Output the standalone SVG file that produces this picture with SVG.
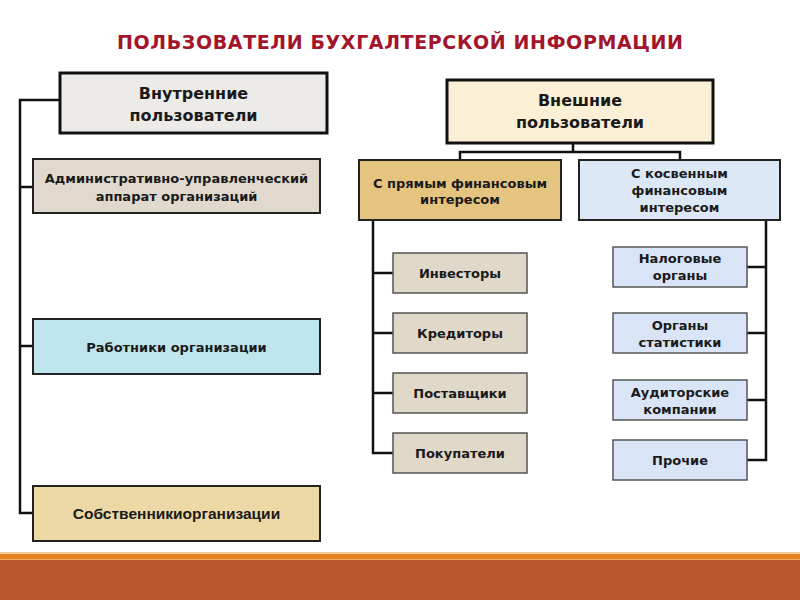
<svg xmlns="http://www.w3.org/2000/svg" width="800" height="600" viewBox="0 0 800 600">
<style>
  .t { font-family: "DejaVu Sans", Verdana, sans-serif; font-weight: bold; fill: #1a1a1a; text-anchor: middle; dominant-baseline: central; }
  .h { font-size: 16px; }
  .m { font-size: 13px; }
  .s { font-size: 13px; }
  .c { font-family: "Liberation Sans", Arial, sans-serif; font-weight: bold; font-size: 15.5px; fill: #1a1a1a; text-anchor: middle; dominant-baseline: central; }
  .thick { stroke: #111; stroke-width: 3; }
  .mid { stroke: #222; stroke-width: 2; }
  .thin { stroke: #555; stroke-width: 1.5; }
  .conn { fill: none; stroke: #111; stroke-width: 2.5; }
</style>
<rect width="800" height="600" fill="#ffffff"/>
<text x="400" y="41.5" font-family="DejaVu Sans, Verdana, sans-serif" font-weight="bold" font-size="19" fill="#a3152b" text-anchor="middle" dominant-baseline="central" textLength="566" lengthAdjust="spacing">ПОЛЬЗОВАТЕЛИ БУХГАЛТЕРСКОЙ ИНФОРМАЦИИ</text>

<g id="connectors">
  <path class="conn" d="M60 100 H20 V513 H33"/>
  <path class="conn" d="M20 187 H33 M20 346 H33"/>
  <path class="conn" d="M573 143 V152 M460 160 V152 H680 V160"/>
  <path class="conn" d="M373 220 V453 H393 M373 273 H393 M373 333 H393 M373 393 H393"/>
  <path class="conn" d="M766 220 V460 H747 M766 267 H747 M766 333 H747 M766 400 H747"/>
</g>

<g id="internal">
  <rect x="60" y="73" width="267" height="60" fill="#ecebe8" class="thick"/>
  <text class="t h" x="193.5" y="93">Внутренние</text>
  <text class="t h" x="193.5" y="115">пользователи</text>
</g>
<g id="admin">
  <rect x="33" y="159" width="287" height="54" fill="#e1d9cd" class="mid"/>
  <text class="t s" x="176.5" y="178">Административно-управленческий</text>
  <text class="t s" x="176.5" y="196">аппарат организаций</text>
</g>
<g id="workers">
  <rect x="33" y="319" width="287" height="55" fill="#bfe6ee" class="mid"/>
  <text class="t m" x="176.5" y="347">Работники организации</text>
</g>
<g id="owners">
  <rect x="33" y="486" width="287" height="55" fill="#ecd9a6" class="mid"/>
  <text class="c" x="176.5" y="513">Собственникиорганизации</text>
</g>

<g id="external">
  <rect x="447" y="80" width="266" height="63" fill="#fbf0d6" class="thick"/>
  <text class="t h" x="580" y="100">Внешние</text>
  <text class="t h" x="580" y="122">пользователи</text>
</g>
<g id="direct">
  <rect x="359" y="160" width="202" height="60" fill="#e5c47f" class="mid"/>
  <text class="t m" x="460" y="183">С прямым финансовым</text>
  <text class="t m" x="460" y="199">интересом</text>
</g>
<g id="indirect">
  <rect x="579" y="160" width="201" height="60" fill="#dce8f5" class="mid"/>
  <text class="t m" x="679.5" y="173">С косвенным</text>
  <text class="t m" x="679.5" y="190">финансовым</text>
  <text class="t m" x="679.5" y="207">интересом</text>
</g>

<g id="investors">
  <rect x="393" y="253" width="134" height="40" fill="#e0d8c8" class="thin"/>
  <text class="t m" x="460" y="273">Инвесторы</text>
</g>
<g id="creditors">
  <rect x="393" y="313" width="134" height="40" fill="#e0d8c8" class="thin"/>
  <text class="t m" x="460" y="333">Кредиторы</text>
</g>
<g id="suppliers">
  <rect x="393" y="373" width="134" height="40" fill="#e0d8c8" class="thin"/>
  <text class="t m" x="460" y="393">Поставщики</text>
</g>
<g id="buyers">
  <rect x="393" y="433" width="134" height="40" fill="#e0d8c8" class="thin"/>
  <text class="t m" x="460" y="453">Покупатели</text>
</g>

<g id="tax">
  <rect x="613" y="247" width="134" height="40" fill="#d9e4f7" class="thin"/>
  <text class="t m" x="680" y="258">Налоговые</text>
  <text class="t m" x="680" y="275">органы</text>
</g>
<g id="stat">
  <rect x="613" y="313" width="134" height="40" fill="#d9e4f7" class="thin"/>
  <text class="t m" x="680" y="325">Органы</text>
  <text class="t m" x="680" y="342">статистики</text>
</g>
<g id="audit">
  <rect x="613" y="380" width="134" height="40" fill="#d9e4f7" class="thin"/>
  <text class="t m" x="680" y="392">Аудиторские</text>
  <text class="t m" x="680" y="409">компании</text>
</g>
<g id="other">
  <rect x="613" y="440" width="134" height="40" fill="#d9e4f7" class="thin"/>
  <text class="t m" x="680" y="460">Прочие</text>
</g>

<rect x="0" y="552" width="800" height="2" fill="#f6c998"/>
<rect x="0" y="554" width="800" height="5" fill="#e2831f"/>
<rect x="0" y="559" width="800" height="1" fill="#f0a860"/>
<rect x="0" y="560" width="800" height="40" fill="#bc582d"/>
</svg>
